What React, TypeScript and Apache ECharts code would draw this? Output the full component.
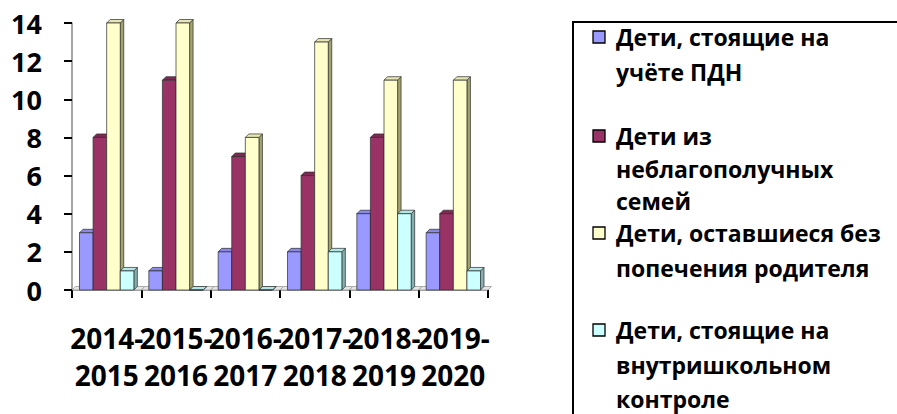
import React, { useEffect, useRef } from "react";
import * as echarts from "echarts";

const categories = ["2014-2015", "2015-2016", "2016-2017", "2017-2018", "2018-2019", "2019-2020"];
const seriesNames = [
  "Дети, стоящие на учёте ПДН",
  "Дети из неблагополучных семей",
  "Дети, оставшиеся без попечения родителя",
  "Дети, стоящие на внутришкольном контроле",
];
const legendLines = [
  ["Дети, стоящие на", "учёте ПДН"],
  ["Дети из", "неблагополучных", "семей"],
  ["Дети, оставшиеся без", "попечения родителя"],
  ["Дети, стоящие на", "внутришкольном", "контроле"],
];
const childrenPDN = [3, 1, 2, 2, 4, 3];
const childrenDisadvantaged = [8, 11, 7, 6, 8, 4];
const childrenNoCare = [14, 14, 8, 13, 11, 11];
const childrenSchoolControl = [1, 0, 0, 2, 4, 1];
const seriesValues = [childrenPDN, childrenDisadvantaged, childrenNoCare, childrenSchoolControl];
const yTicks = { min: 0, max: 14, interval: 2 };

const frontColors = ["#9999FF", "#993366", "#FFFFCC", "#CCFFFF"];
const sideColors = ["#5F5FB0", "#66203F", "#A3A370", "#86AFAF"];
const topColors = ["#8A8AE6", "#7F2A55", "#E6E6B3", "#B3E6E6"];

const FONT = "'Open Sans', 'Noto Sans', sans-serif";

export default function App() {
  const ref = useRef<HTMLDivElement>(null);
  useEffect(() => {
    const chart = echarts.init(ref.current!, null, { renderer: "svg" });
    const depth = 3.5;
    const stroke = "#2b2b2b";
    const makeSeries = (si: number) => ({
      type: "custom",
      name: seriesNames[si],
      data: seriesValues[si].map((v, i) => [i, v]),
      encode: { x: 0, y: 1 },
      renderItem: (params: any, api: any) => {
        const idx = api.value(0);
        const val = api.value(1);
        const top = api.coord([idx, val]);
        const base = api.coord([idx, 0]);
        const catW = api.size([1, 0])[0];
        const w = catW * 0.196;
        const x0 = top[0] - 2 * w + si * w;
        const yT = top[1];
        const y0 = base[1];
        const children: any[] = [];
        if (si === 0) {
          const l = top[0] - catW / 2;
          const r = top[0] + catW / 2;
          children.push({
            type: "polygon",
            shape: { points: [[l, y0], [l + depth, y0 - depth], [r + depth, y0 - depth], [r, y0]] },
            style: { fill: "#e6e6e6", stroke: "#9a9a9a", lineWidth: 0.8 },
          });
        }
        children.push({
          type: "polygon",
          shape: { points: [[x0 + w, yT], [x0 + w + depth, yT - depth], [x0 + w + depth, y0 - depth], [x0 + w, y0]] },
          style: { fill: sideColors[si], stroke, lineWidth: 0.7 },
        });
        children.push({
          type: "polygon",
          shape: { points: [[x0, yT], [x0 + depth, yT - depth], [x0 + w + depth, yT - depth], [x0 + w, yT]] },
          style: { fill: topColors[si], stroke, lineWidth: 0.7 },
        });
        children.push({
          type: "rect",
          shape: { x: x0, y: yT, width: w, height: Math.max(0, y0 - yT) },
          style: { fill: frontColors[si], stroke, lineWidth: 0.7 },
        });
        return { type: "group", children };
      },
    });

    const legendLineCenters = [
      [37, 72],
      [136, 169, 201],
      [233, 268],
      [330, 365, 399],
    ];
    const graphic: any[] = [
      {
        type: "rect",
        shape: { x: 573, y: 22, width: 400, height: 450 },
        style: { fill: "none", stroke: "#000", lineWidth: 2 },
        silent: true,
      },
    ];
    legendLines.forEach((lines, i) => {
      graphic.push({
        type: "rect",
        shape: { x: 593, y: legendLineCenters[i][0] - 6, width: 12, height: 12 },
        style: { fill: frontColors[i], stroke: "#000", lineWidth: 1.3 },
      });
      lines.forEach((line, j) => {
        graphic.push({
          type: "text",
          x: 616,
          y: legendLineCenters[i][j],
          style: {
            text: line,
            fill: "#000",
            font: `bold 23px ${FONT}`,
            lineHeight: 24,
            verticalAlign: "middle",
          },
        });
      });
    });

    chart.setOption({
      animation: false,
      backgroundColor: "#fff",
      textStyle: { fontFamily: FONT },
      grid: { left: 72, right: 409, top: 23, bottom: 124, containLabel: false },
      xAxis: {
        type: "category",
        data: categories,
        axisLine: { show: true, lineStyle: { color: "#888", width: 1.5 } },
        axisTick: { show: true, length: 8, lineStyle: { color: "#000", width: 2 } },
        axisLabel: {
          interval: 0,
          hideOverlap: false,
          margin: 29,
          fontSize: 28,
          fontWeight: "bold",
          color: "#000",
          lineHeight: 37,
          fontFamily: FONT,
          formatter: (v: string) => v.replace("-", "-\n"),
        },
        splitLine: { show: false },
      },
      yAxis: {
        type: "value",
        min: yTicks.min,
        max: yTicks.max,
        interval: yTicks.interval,
        axisLine: { show: true, lineStyle: { color: "#888", width: 1.5 } },
        axisTick: { show: true, length: 8, lineStyle: { color: "#000", width: 2 } },
        axisLabel: { margin: 30, fontSize: 27, fontWeight: "bold", color: "#000", fontFamily: FONT },
        splitLine: { show: false },
      },
      series: [0, 1, 2, 3].map(makeSeries),
      graphic,
    } as any);
    return () => chart.dispose();
  }, []);
  return <div ref={ref} style={{ position: "fixed", left: 0, top: 0, width: 897, height: 414 }} />;
}
